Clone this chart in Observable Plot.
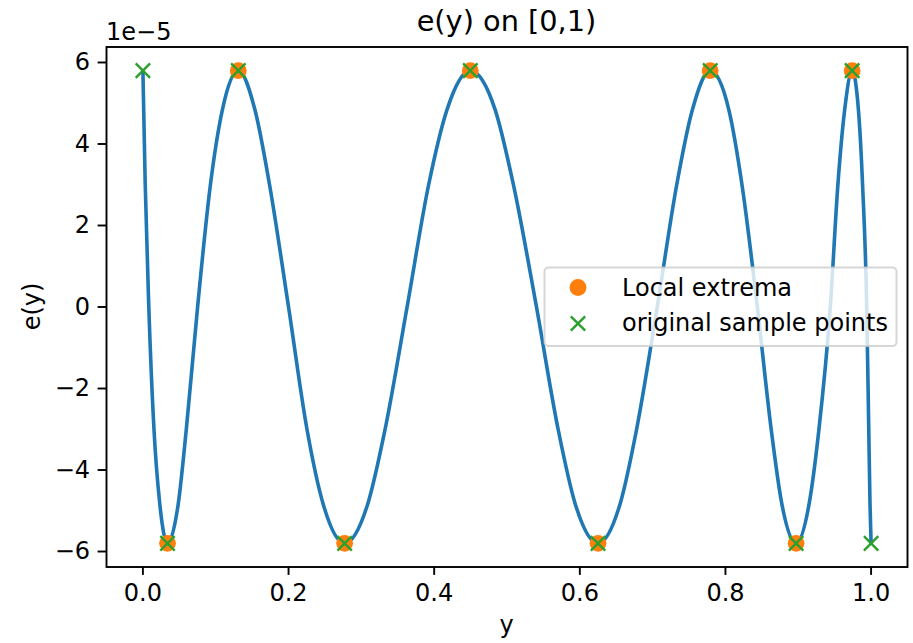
<!DOCTYPE html>
<html>
<head>
<meta charset="utf-8">
<script src="https://cdn.jsdelivr.net/npm/d3@7"></script>
<script src="https://cdn.jsdelivr.net/npm/@observablehq/plot@0.6"></script>
<style>
  body { margin: 0; background: #fff; }
  svg { display: block; }
</style>
</head>
<body>
<div id="chart"></div>
<script>
// Error curve e(y) on [0,1), values in units of 1e-5
const curveY = [0, 0.0011, 0.0032, 0.0081, 0.0152, 0.0231, 0.0338, 0.0486, 0.0596, 0.0751,
  0.0927, 0.1089, 0.131, 0.1541, 0.1739, 0.2000, 0.2253, 0.2473, 0.277, 0.309,
  0.3326, 0.3628, 0.3924, 0.4172, 0.4496, 0.4841, 0.5088, 0.5405, 0.5702, 0.5935,
  0.625, 0.6555, 0.6780, 0.7063, 0.7331, 0.7543, 0.779, 0.8049, 0.8227, 0.8438,
  0.8628, 0.8773, 0.897, 0.915, 0.9284, 0.9440, 0.9544, 0.9636, 0.974, 0.9827,
  0.9883, 0.9940, 0.9968, 0.9985, 1.0];
const curveE = [5.8, 4.82, 3, 0, -3, -4.82, -5.8, -4.82, -3, 0,
  3, 4.82, 5.8, 4.82, 3, 0, -3, -4.82, -5.8, -4.82,
  -3, 0, 3, 4.82, 5.8, 4.82, 3, 0, -3, -4.82,
  -5.8, -4.82, -3, 0, 3, 4.82, 5.8, 4.82, 3, 0,
  -3, -4.82, -5.8, -4.82, -3, 0, 3, 4.82, 5.8, 4.82,
  3, 0, -3, -4.82, -5.8];

// Interior local extrema
const extremaY = [0.0338, 0.131, 0.277, 0.4496, 0.625, 0.779, 0.897, 0.974];
const extremaE = [-5.8, 5.8, -5.8, 5.8, -5.8, 5.8, -5.8, 5.8];

// Original sample points (alternation set, endpoints included)
const sampleY = [0, 0.0338, 0.131, 0.277, 0.4496, 0.625, 0.779, 0.897, 0.974, 1.0];
const sampleE = [5.8, -5.8, 5.8, -5.8, 5.8, -5.8, 5.8, -5.8, 5.8, -5.8];

const xTicks = [0, 0.2, 0.4, 0.6, 0.8, 1.0];
const yTicks = [-6, -4, -2, 0, 2, 4, 6];
const legendLabels = ["Local extrema", "original sample points"];

const BLUE = "#1f77b4", ORANGE = "#ff7f0e", GREEN = "#2ca02c";
const FONT = "DejaVu Sans, sans-serif";
const FS = 24;        // tick, label and legend font size
const FS_TITLE = 28.8;

const curve = curveY.map((y, i) => ({y, e: curveE[i]}));
const extrema = extremaY.map((y, i) => ({y, e: extremaE[i]}));
const samples = sampleY.map((y, i) => ({y, e: sampleE[i]}));

const W = 913, H = 643;
const mL = 106, mR = 6, mT = 46.5, mB = 76.5;
const TIMES_R = 6.6; // dot radius giving a 14.4px wide cross

const chart = Plot.plot({
  width: W,
  height: H,
  marginLeft: mL,
  marginRight: mR,
  marginTop: mT,
  marginBottom: mB,
  style: {fontFamily: FONT, fontSize: FS + "px", color: "#000", background: "#fff"},
  x: {domain: [-0.05, 1.05]},
  y: {domain: [-6.38, 6.38]},
  marks: [
    Plot.line(curve, {x: "y", y: "e", stroke: BLUE, strokeWidth: 3.6, curve: "monotone-x"}),
    Plot.dot(extrema, {x: "y", y: "e", r: 8.4, fill: ORANGE, stroke: "none"}),
    Plot.dot(samples, {x: "y", y: "e", r: TIMES_R, symbol: "times", stroke: GREEN, strokeWidth: 2.4, fill: "none"}),
    Plot.axisX({ticks: xTicks, tickFormat: d3.format(".1f"), tickSize: 8.4, tickPadding: 9, strokeWidth: 1.9, label: null, fontSize: FS}),
    Plot.axisY({ticks: yTicks, tickFormat: d => (d < 0 ? "\u2212" + Math.abs(d) : String(d)), tickSize: 8.4, tickPadding: 8, strokeWidth: 1.9, label: null, fontSize: FS}),
    Plot.frame({stroke: "#000", strokeWidth: 1.9})
  ]
});

document.getElementById("chart").appendChild(chart);

const svg = d3.select(chart);
const cx = (mL + (W - mR)) / 2;

function label(sel, x, y, txt, size, anchor) {
  return sel.append("text").attr("x", x).attr("y", y)
    .attr("text-anchor", anchor).attr("font-family", FONT)
    .attr("font-size", size).attr("fill", "#000").text(txt);
}

// Title
label(svg, cx, 31, "e(y) on [0,1)", FS_TITLE, "middle");

// Offset multiplier for the y axis
label(svg, 106, 39.5, "1e\u22125", FS, "start");

// Axis labels
label(svg, cx, 633, "y", FS, "middle");
svg.append("text").attr("transform", `translate(40,${(mT + H - mB) / 2}) rotate(-90)`)
  .attr("text-anchor", "middle").attr("font-family", FONT)
  .attr("font-size", FS).attr("fill", "#000").text("e(y)");

// Legend
const lg = svg.append("g");
lg.append("rect").attr("x", 544.5).attr("y", 267.5).attr("width", 352).attr("height", 78.5)
  .attr("rx", 4).attr("fill", "#fff").attr("fill-opacity", 0.8)
  .attr("stroke", "#cccccc").attr("stroke-opacity", 0.8).attr("stroke-width", 2);
lg.append("circle").attr("cx", 578).attr("cy", 287.5).attr("r", 8.4).attr("fill", ORANGE);
lg.append("path").attr("transform", "translate(578,323.5)")
  .attr("d", d3.symbol(d3.symbolTimes, Math.PI * TIMES_R * TIMES_R)())
  .attr("stroke", GREEN).attr("stroke-width", 2.4).attr("fill", "none");
label(lg, 622, 296, legendLabels[0], FS, "start");
label(lg, 622, 331, legendLabels[1], FS, "start");
</script>
</body>
</html>
